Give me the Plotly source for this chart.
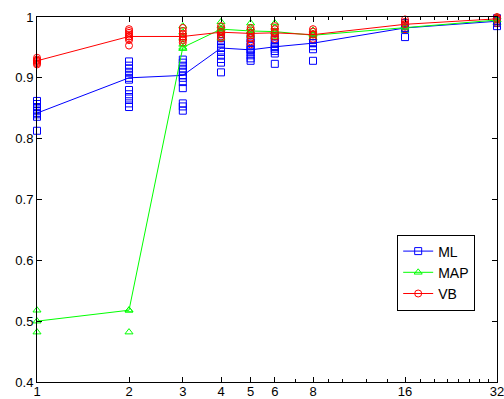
import plotly.graph_objects as go

x_vals = [1, 2, 3, 4, 5, 6, 8, 16, 32]
x_ticks = [1, 2, 3, 4, 5, 6, 8, 16, 32]
x_minor = [7, 9, 10, 12, 14, 18, 20, 22, 24, 26, 28, 30]
y_ticks = [0.4, 0.5, 0.6, 0.7, 0.8, 0.9, 1.0]
y_ticktext = ["0.4", "0.5", "0.6", "0.7", "0.8", "0.9", "1"]

ml_mean = [0.842, 0.900, 0.904, 0.949, 0.946, 0.951, 0.957, 0.982, 0.993]
map_mean = [0.500, 0.518, 0.950, 0.980, 0.977, 0.976, 0.970, 0.983, 0.995]
vb_mean = [0.928, 0.968, 0.968, 0.975, 0.973, 0.974, 0.971, 0.988, 0.997]

ml_runs = [
    [0.862, 0.857, 0.852, 0.848, 0.845, 0.840, 0.836, 0.813],
    [0.927, 0.920, 0.915, 0.910, 0.905, 0.897, 0.880, 0.873, 0.866, 0.858, 0.852],
    [0.930, 0.925, 0.920, 0.915, 0.910, 0.900, 0.893, 0.883, 0.858, 0.853, 0.846],
    [0.972, 0.965, 0.960, 0.955, 0.950, 0.945, 0.938, 0.931, 0.925, 0.909],
    [0.965, 0.958, 0.952, 0.947, 0.942, 0.937, 0.932, 0.928],
    [0.968, 0.962, 0.957, 0.952, 0.948, 0.944, 0.940, 0.923],
    [0.962, 0.957, 0.952, 0.947, 0.928],
    [0.990, 0.985, 0.980, 0.967],
    [0.998, 0.994, 0.990, 0.985],
]
map_runs = [
    [0.518, 0.482],
    [0.518, 0.482],
    [0.985, 0.975, 0.965, 0.955, 0.948],
    [0.992, 0.985, 0.980, 0.975, 0.965],
    [0.990, 0.982, 0.975, 0.970],
    [0.990, 0.983, 0.975, 0.968],
    [0.978, 0.972, 0.966],
    [0.990, 0.985, 0.978],
    [1.000, 0.996, 0.990],
]
vb_runs = [
    [0.933, 0.930, 0.928, 0.926, 0.924, 0.922],
    [0.980, 0.977, 0.974, 0.971, 0.968, 0.965, 0.962, 0.953],
    [0.982, 0.977, 0.972, 0.968, 0.965, 0.962, 0.958],
    [0.985, 0.980, 0.976, 0.972, 0.968, 0.965],
    [0.982, 0.978, 0.974, 0.970, 0.966, 0.960, 0.955],
    [0.985, 0.980, 0.976, 0.972, 0.968, 0.964],
    [0.980, 0.976, 0.972, 0.968, 0.964],
    [0.996, 0.992, 0.988, 0.984, 0.980],
    [1.000, 0.998, 0.996, 0.993, 0.990],
]

series = [
    ("ML", ml_mean, ml_runs, "#0000FF", "square-open"),
    ("MAP", map_mean, map_runs, "#00FF00", "triangle-up-open"),
    ("VB", vb_mean, vb_runs, "#FF0000", "circle-open"),
]

fig = go.Figure()
for name, mean, runs, color, sym in series:
    xs, ys = [], []
    for xv, r in zip(x_vals, runs):
        for v in r:
            xs.append(xv)
            ys.append(v)
    fig.add_trace(go.Scatter(
        x=xs, y=ys, mode="markers", showlegend=False, cliponaxis=False,
        marker=dict(symbol=sym, size=7, color=color, line=dict(width=1, color=color)),
        hoverinfo="skip",
    ))
for name, mean, runs, color, sym in series:
    fig.add_trace(go.Scatter(
        x=x_vals, y=mean, mode="lines+markers", name=name, cliponaxis=False,
        line=dict(color=color, width=1),
        marker=dict(symbol=sym, size=7, color=color, line=dict(width=1, color=color)),
    ))

axis_font = dict(family="Liberation Sans, Arial, sans-serif", size=13, color="black")
fig.update_layout(
    width=504, height=399,
    margin=dict(l=37, r=7, t=17, b=17),
    paper_bgcolor="white", plot_bgcolor="white",
    font=axis_font,
    xaxis=dict(
        type="log", range=[0, 1.50515], automargin=False,
        tickvals=x_ticks, ticktext=[str(t) for t in x_ticks],
        ticks="inside", ticklen=5, tickcolor="black",
        ticklabeloverflow="allow", ticklabelstandoff=-3,
        showline=True, linecolor="black", linewidth=1, mirror="ticks",
        showgrid=False, zeroline=False, tickfont=axis_font,
        minor=dict(tickmode="array", tickvals=x_minor, ticks="inside",
                   ticklen=3, tickcolor="black", showgrid=False),
    ),
    yaxis=dict(
        range=[0.4, 1.0], automargin=False,
        tickvals=y_ticks, ticktext=y_ticktext,
        ticks="inside", ticklen=5, tickcolor="black",
        ticklabeloverflow="allow",
        showline=True, linecolor="black", linewidth=1, mirror="ticks",
        showgrid=False, zeroline=False, tickfont=axis_font,
    ),
    legend=dict(
        x=0.783, y=0.30, xanchor="left", yanchor="middle",
        bgcolor="white", bordercolor="black", borderwidth=1,
        font=dict(family="Liberation Sans, Arial, sans-serif", size=14, color="black"),
        tracegroupgap=0, itemwidth=30,
    ),
    showlegend=True,
)

fig.write_html("out.html")
